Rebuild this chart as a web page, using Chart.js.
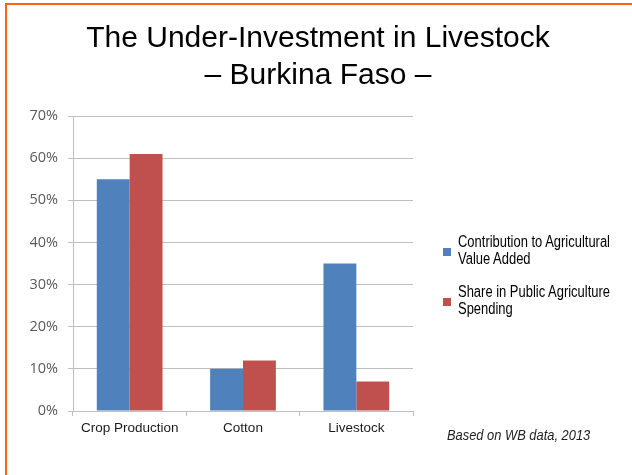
<!DOCTYPE html>
<html>
<head>
<meta charset="utf-8">
<script src="https://cdn.jsdelivr.net/npm/chart.js@4"></script>
<style>
  html, body { margin: 0; padding: 0; background: #fff; }
  #wrap { position: relative; width: 632px; height: 475px; overflow: hidden; font-family: "Liberation Sans", Arial, sans-serif; }
  #frame { position: absolute; left: 5px; top: 3px; width: 640px; height: 480px; border-top: 2px solid #F7670F; border-left: 2px solid #F7670F; }
  #title { position: absolute; left: 0; width: 636px; top: 19px; text-align: center; font-size: 30px; line-height: 36.5px; color: #000; }
  canvas { position: absolute; left: 0; top: 0; }
  .leg { position: absolute; left: 458px; font-size: 16px; line-height: 17px; color: #000; white-space: nowrap; transform: scaleX(0.81); transform-origin: 0 0; }
  .sw { position: absolute; width: 8px; height: 8px; left: 443px; }
  #note { position: absolute; left: 447px; top: 427px; font-size: 14px; line-height: 16px; font-style: italic; color: #222; white-space: nowrap; transform: scaleX(0.92); transform-origin: 0 0; }
</style>
</head>
<body>
<div id="wrap">
  <canvas id="myChart" width="632" height="475"></canvas>
  <div id="frame"></div>
  <div id="title">The Under-Investment in Livestock<br>– Burkina Faso –</div>
  <div class="sw" style="top:248px;background:#4F81BD"></div>
  <div class="leg" style="top:233px">Contribution to Agricultural<br>Value Added</div>
  <div class="sw" style="top:298px;background:#C0504D"></div>
  <div class="leg" style="top:283px">Share in Public Agriculture<br>Spending</div>
  <div id="note">Based on WB data, 2013</div>
</div>
<script>
  // chart data
  const categories = ['Crop Production', 'Cotton', 'Livestock'];
  const seriesNames = ['Contribution to Agricultural Value Added', 'Share in Public Agriculture Spending'];
  const valueAdded = [55, 10, 35];
  const publicSpending = [61, 12, 7];
  const yTicks = [0, 10, 20, 30, 40, 50, 60, 70];

  const colors = ['#4F81BD', '#C0504D'];
  const gridGray = '#BFBFBF';

  var canvas = document.getElementById('myChart');
  var setup = {
    type: 'bar',
    data: {
      labels: categories,
      datasets: [
        { label: seriesNames[0], data: valueAdded, backgroundColor: colors[0] },
        { label: seriesNames[1], data: publicSpending, backgroundColor: colors[1] }
      ]
    },
    options: {
      responsive: false,
      animation: false,
      layout: { padding: { top: 116, left: 0, right: 219, bottom: 33 } },
      categoryPercentage: 0.58,
      barPercentage: 1.0,
      plugins: {
        legend: { display: false },
        tooltip: { enabled: false }
      },
      scales: {
        x: {
          grid: { display: true, offset: true, drawOnChartArea: false, drawTicks: true, tickLength: 5, color: gridGray },
          border: { color: gridGray },
          ticks: { color: '#1a1a1a', padding: 4, maxRotation: 0, autoSkip: false, font: { family: 'Liberation Sans', size: 13.5 } },
          afterFit: function(scale) { scale.height = 31; }
        },
        y: {
          min: 0,
          max: 70,
          afterBuildTicks: function(scale) { scale.ticks = yTicks.map(v => ({ value: v })); },
          grid: { color: gridGray, tickLength: 5 },
          border: { color: gridGray },
          ticks: {
            color: '#595959',
            padding: 10,
            font: { family: 'Open Sans', size: 14.5 },
            callback: v => v + '%'
          },
          afterFit: function(scale) { scale.width = 73; }
        }
      }
    }
  };
  chart = new Chart(canvas, setup);
</script>
</body>
</html>
